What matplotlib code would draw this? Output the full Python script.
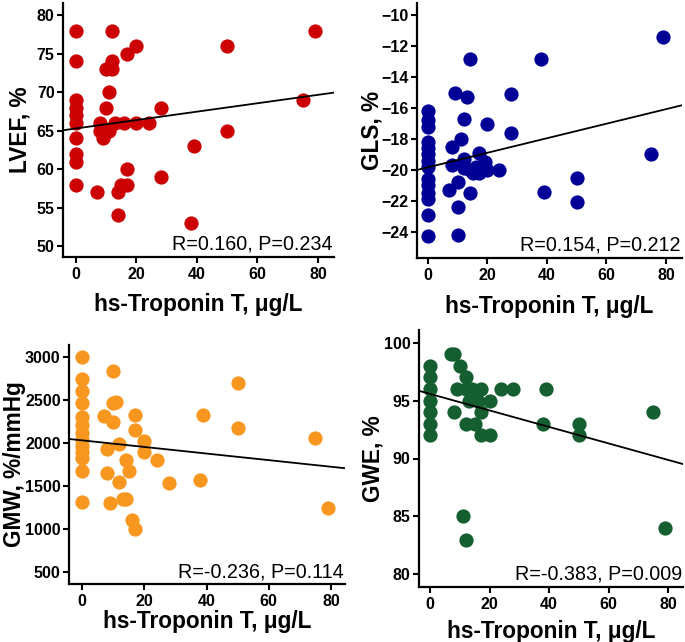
import matplotlib
matplotlib.use("Agg")
import matplotlib.pyplot as plt
import numpy as np

plt.rcParams['font.family'] = ['Liberation Sans', 'DejaVu Sans']

# LVEF panel
lvef_x = [0, 0, 0, 0, 0, 0, 0, 0, 0, 0, 7, 8, 8, 9, 10, 10, 10, 11, 11, 12, 12, 12, 13, 14, 14,
          15, 16, 17, 17, 17, 20, 20, 24, 28, 28, 38, 39, 50, 50, 75, 79]
lvef_y = [78, 74, 69, 68, 67, 66, 64, 62, 61, 58, 57, 66, 65, 64, 73, 68, 65, 70, 65, 78, 74, 73, 66, 57, 54,
          58, 66, 75, 60, 58, 76, 66, 66, 68, 59, 53, 63, 76, 65, 69, 78]

# GLS panel
gls_x = [0, 0, 0, 0, 0, 0, 0, 0, 0, 0, 0, 0, 0, 0,
         7, 8, 8, 9, 10, 10, 10, 11, 12, 12, 12, 13, 14, 14, 14, 15, 16, 17, 17, 19, 20, 20, 24,
         28, 28, 38, 39, 50, 50, 75, 79]
gls_y = [-16.2, -16.8, -17.2, -18.2, -18.6, -19.0, -19.4, -19.8, -20.6, -21.0, -21.5, -21.9, -22.9, -24.3,
         -21.3, -18.5, -19.7, -15.0, -20.8, -22.4, -24.2, -18.0, -16.7, -19.3, -19.9, -15.3, -12.8, -20.0,
         -21.5, -20.2, -19.8, -18.9, -20.2, -19.5, -17.0, -20.0, -20.0, -15.1, -17.6, -12.8, -21.4, -20.5,
         -22.1, -19.0, -11.4]

# GMW panel
gmw_x = [0, 0, 0, 0, 0, 0, 0, 0, 0, 0, 0, 0, 0,
         7, 8, 8, 9, 10, 10, 10, 11, 12, 12, 13, 14, 14, 15, 16, 17, 17, 17, 20, 20, 24, 28,
         38, 39, 50, 50, 75, 79]
gmw_y = [3000, 2750, 2600, 2470, 2300, 2210, 2120, 2040, 1970, 1900, 1820, 1670, 1310,
         2310, 1930, 1650, 1300, 2840, 2460, 2240, 2480, 1990, 1550, 1350, 1800, 1350, 1670, 1100,
         2320, 2150, 1000, 2020, 1890, 1800, 1530, 1570, 2320, 2700, 2170, 2060, 1240]

# GWE panel
gwe_x = [0, 0, 0, 0, 0, 0, 0,
         7, 8, 8, 9, 10, 11, 12, 12, 12, 12, 13, 14, 15, 16, 17, 17, 17, 20, 20, 24, 28,
         38, 39, 50, 50, 75, 79]
gwe_y = [98, 97, 96, 95, 94, 93, 92,
         99, 99, 94, 96, 98, 85, 97, 96, 93, 83, 95, 96, 93, 95, 96, 94, 92, 95, 92, 96, 96,
         93, 96, 93, 92, 94, 84]

# regression lines (intercept, slope)
fit_intercept = [65.3, -19.83, 2031, 95.58]
fit_slope = [0.0546, 0.047, -3.84, -0.0713]

stats = ["R=0.160, P=0.234", "R=0.154, P=0.212", "R=-0.236, P=0.114", "R=-0.383, P=0.009"]
ylabels = ["LVEF, %", "GLS, %", "GMW, %/mmHg", "GWE, %"]
colors = ["#cc0000", "#000096", "#f7971f", "#145e2f"]

W, H = 685, 642
fig = plt.figure(figsize=(W / 100, H / 100), dpi=100)

# pixel boxes: left, right, top, bottom
boxes = [(63, 334, 3, 257), (417, 682, 3, 258), (69, 345, 345, 584), (419, 683, 330, 587)]
xlims = [(-4.3, 85.3), (-3.7, 85.4), (-4.2, 84.5), (-3.7, 85.0)]
ylims = [(48.6, 81.6), (-25.7, -9.2), (360, 3140), (78.9, 101.1)]
yticks = [np.arange(50, 81, 5), np.arange(-24, -9, 2), np.arange(500, 3001, 500), np.arange(80, 101, 5)]
ylab_x = [-0.118, -0.128, -0.156, -0.13]
xlab_pad = [8, 9, 1, 6]

data = [(lvef_x, lvef_y), (gls_x, gls_y), (gmw_x, gmw_y), (gwe_x, gwe_y)]

for i in range(4):
    l, r, t, b = boxes[i]
    ax = fig.add_axes([l / W, 1 - b / H, (r - l) / W, (b - t) / H])
    xs, ys = data[i]
    ax.scatter(xs, ys, s=105, color=colors[i], linewidths=0, zorder=2)
    xx = np.array(xlims[i])
    ax.plot(xx, fit_intercept[i] + fit_slope[i] * xx, color='black', lw=1.3, zorder=3)
    ax.set_xlim(xlims[i])
    ax.set_ylim(ylims[i])
    ax.set_xticks([0, 20, 40, 60, 80])
    ax.set_yticks(yticks[i])
    for s in ['top', 'right']:
        ax.spines[s].set_visible(False)
    for s in ['left', 'bottom']:
        ax.spines[s].set_linewidth(1.6)
    ax.tick_params(direction='out', length=4, width=1.5, labelsize=11.5)
    ax.tick_params(axis='x', pad=3)
    ax.tick_params(axis='y', pad=2)
    for lab in ax.get_xticklabels() + ax.get_yticklabels():
        lab.set_fontweight('bold')
    ax.set_xlabel("hs-Troponin T, μg/L", fontsize=16.25, fontweight='bold', labelpad=xlab_pad[i])
    ax.set_ylabel(ylabels[i], fontsize=16.25, fontweight='bold')
    ax.yaxis.set_label_coords(ylab_x[i], 0.5)
    ax.text(0.995, 0.012, stats[i], transform=ax.transAxes, ha='right', va='bottom',
            fontsize=14.2, zorder=4)

fig.savefig("out.png", dpi=100)
